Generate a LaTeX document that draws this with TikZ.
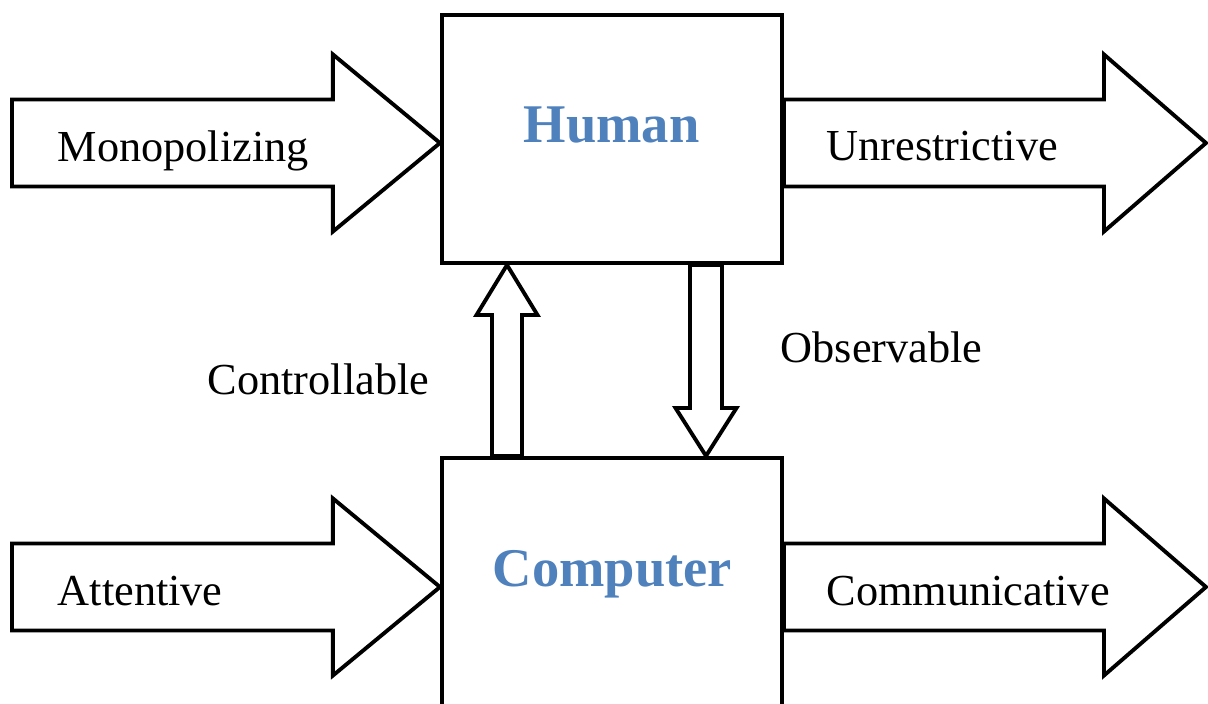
\documentclass[tikz,border=0pt]{standalone}
\usepackage{fontspec}
\setmainfont{Liberation Serif}
\usetikzlibrary{calc}
\definecolor{titleblue}{HTML}{4F81BD}
\tikzset{
  box/.style={draw, line width=1.1pt, minimum width=3.4cm, inner sep=0pt},
  fat arrow/.style n args={3}{line width=1.1pt, line join=miter, to path={
    let \p1=($(\tikztotarget)!#3!(\tikztostart)$) in
    ($(\tikztostart)!#1!90:(\tikztotarget)$) -- ($(\p1)!#1!90:(\tikztotarget)$)
    -- ($(\p1)!#2!90:(\tikztotarget)$) -- (\tikztotarget)
    -- ($(\p1)!#2!-90:(\tikztotarget)$) -- ($(\p1)!#1!-90:(\tikztotarget)$)
    -- ($(\tikztostart)!#1!-90:(\tikztotarget)$) -- cycle}},
  lbl/.style={inner sep=0pt, anchor=base west, font=\fontsize{12.6}{15}\selectfont},
  boxtitle/.style={inner sep=0pt, anchor=base, text=titleblue, font=\fontsize{15.5}{18}\selectfont\bfseries},
}
\begin{document}
\begin{tikzpicture}[x=0.01cm, y=-0.01cm]
\useasboundingbox (0,0) rectangle (1208,704);
\clip (0,0) rectangle (1208,704);
% the two boxes
\node[box, minimum height=2.48cm] (human) at (612,139) {};
\node[box, minimum height=2.82cm] (computer) at (612,599) {};
\node[boxtitle] (humanText) at (611.5,143) {Human};
\node[boxtitle] (computerText) at (612.5,587) {Computer};
% free ends of the big arrows
\coordinate (monoTail) at (12,143);
\coordinate (unreTip) at (1206,143);
\coordinate (attTail) at (12,587);
\coordinate (commTip) at (1206,587);
\coordinate (ctrlX) at (507,0);
\coordinate (obsX) at (706,0);
\draw[fat arrow={0.435cm}{0.885cm}{1.07cm}] (monoTail) to (human.west |- monoTail);
\draw[fat arrow={0.435cm}{0.885cm}{1.02cm}] (human.east |- unreTip) to (unreTip);
\draw[fat arrow={0.435cm}{0.885cm}{1.07cm}] (attTail) to (computer.west |- attTail);
\draw[fat arrow={0.435cm}{0.885cm}{1.02cm}] (computer.east |- commTip) to (commTip);
\draw[fat arrow={0.15cm}{0.305cm}{0.5cm}] (computer.north -| ctrlX) to (human.south -| ctrlX);
\draw[fat arrow={0.16cm}{0.305cm}{0.48cm}] (human.south -| obsX) to (computer.north -| obsX);
% labels
\node[lbl] (mono) at (57,162) {Monopolizing};
\node[lbl] (unre) at (826,161) {Unrestrictive};
\node[lbl] (att) at (57,606) {Attentive};
\node[lbl] (comm) at (826,606) {Communicative};
\node[lbl] (ctrl) at (207,395) {Controllable};
\node[lbl] (obs) at (780,363) {Observable};
\end{tikzpicture}
\end{document}
